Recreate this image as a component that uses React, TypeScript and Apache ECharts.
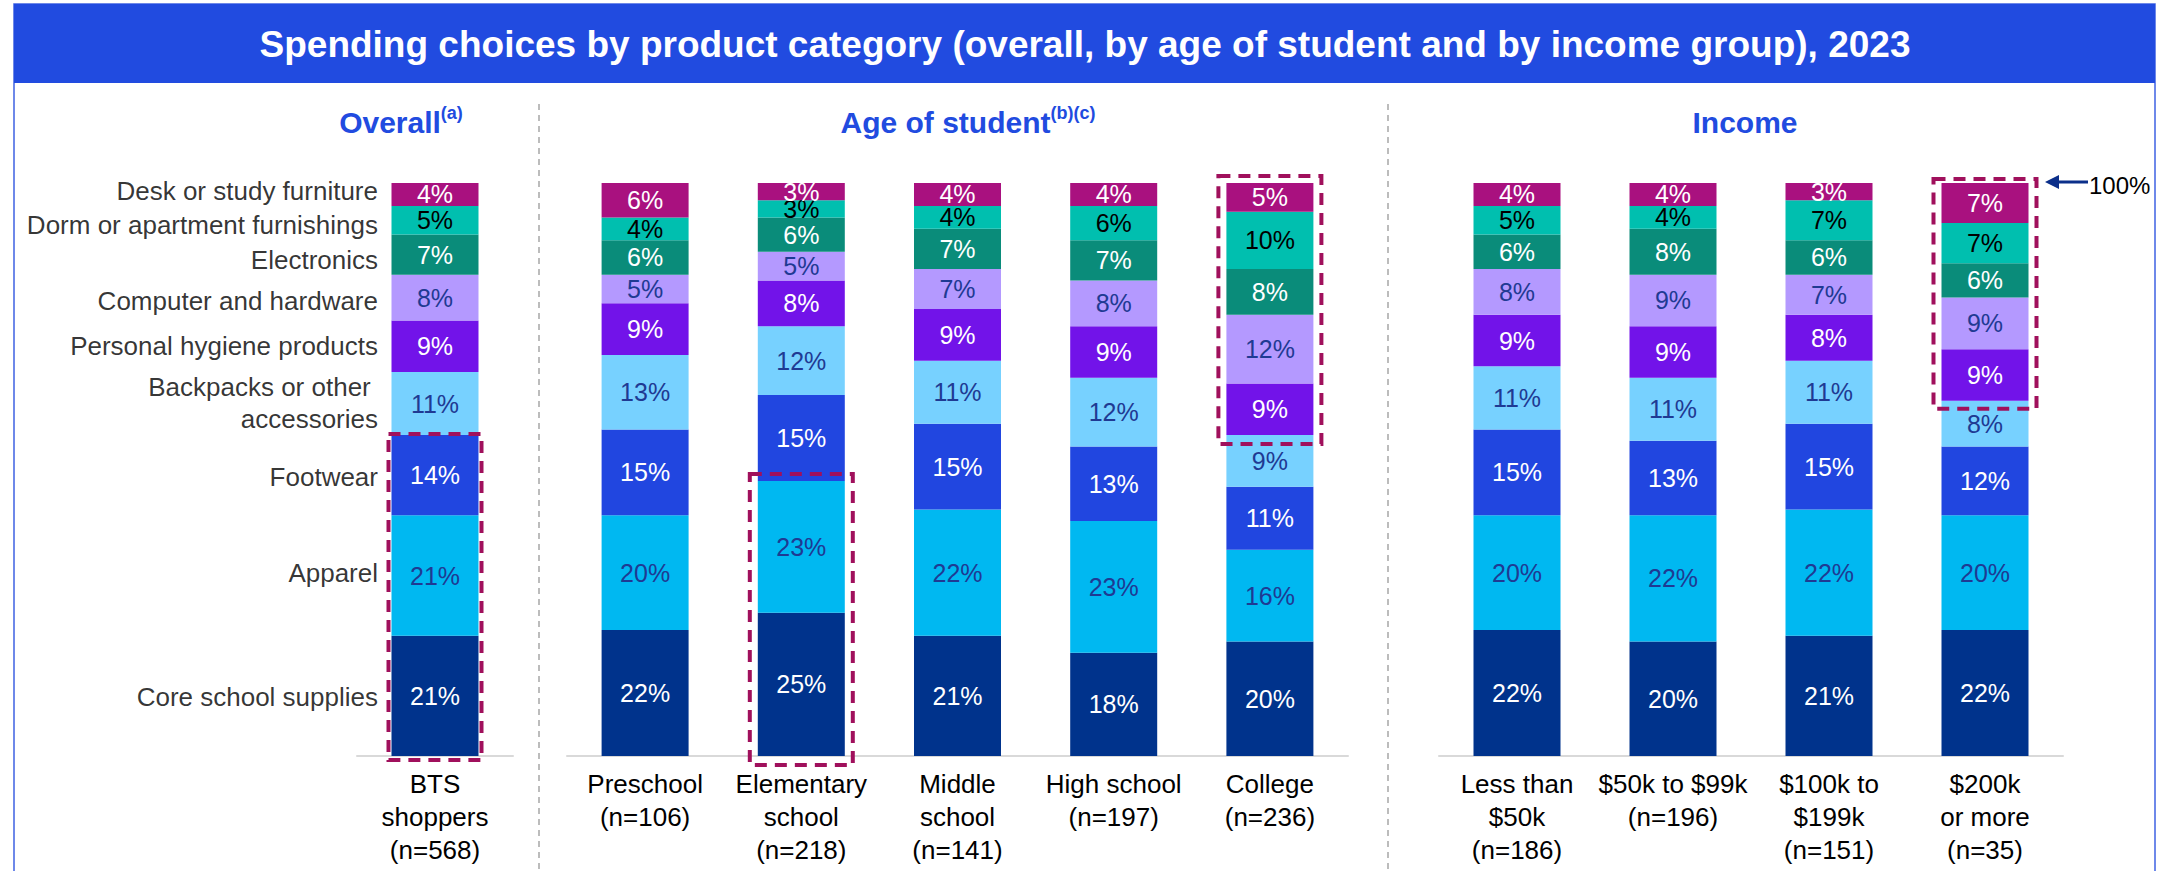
import React, { useEffect, useRef } from "react";
import * as echarts from "echarts";

// ---------- DATA ----------
const segmentNames = [
  "Core school supplies",
  "Apparel",
  "Footwear",
  "Backpacks or other \naccessories",
  "Personal hygiene products",
  "Computer and hardware",
  "Electronics",
  "Dorm or apartment furnishings",
  "Desk or study furniture",
];

const overallCategories = ["BTS\nshoppers\n(n=568)"];
const ageCategories = [
  "Preschool\n(n=106)",
  "Elementary\nschool\n(n=218)",
  "Middle\nschool\n(n=141)",
  "High school\n(n=197)",
  "College\n(n=236)",
];
const incomeCategories = [
  "Less than\n$50k\n(n=186)",
  "$50k to $99k\n(n=196)",
  "$100k to\n$199k\n(n=151)",
  "$200k\nor more\n(n=35)",
];

// values per segment (bottom to top), one entry per category
const overallValues = [[21], [21], [14], [11], [9], [8], [7], [5], [4]];

const ageCore = [22, 25, 21, 18, 20];
const ageApparel = [20, 23, 22, 23, 16];
const ageFootwear = [15, 15, 15, 13, 11];
const ageBackpacks = [13, 12, 11, 12, 9];
const ageHygiene = [9, 8, 9, 9, 9];
const ageComputer = [5, 5, 7, 8, 12];
const ageElectronics = [6, 6, 7, 7, 8];
const ageDorm = [4, 3, 4, 6, 10];
const ageDesk = [6, 3, 4, 4, 5];

const incomeCore = [22, 20, 21, 22];
const incomeApparel = [20, 22, 22, 20];
const incomeFootwear = [15, 13, 15, 12];
const incomeBackpacks = [11, 11, 11, 8];
const incomeHygiene = [9, 9, 8, 9];
const incomeComputer = [8, 9, 7, 9];
const incomeElectronics = [6, 8, 6, 6];
const incomeDorm = [5, 4, 7, 7];
const incomeDesk = [4, 4, 3, 7];

// highlighted ranges: [category index, first segment, last segment]
const overallHighlights = [[0, 0, 2]];
const ageHighlights = [
  [1, 0, 1],
  [4, 4, 8],
];
const incomeHighlights = [[3, 4, 8]];

const titleText =
  "Spending choices by product category (overall, by age of student and by income group), 2023";

// ---------- STYLE ----------
const FONT = "Liberation Sans, Arial, Helvetica, sans-serif";
const segColors = [
  "#00338C",
  "#00B8F1",
  "#2146E0",
  "#77D1FF",
  "#7213E9",
  "#B499FF",
  "#0A8C7A",
  "#00BFAF",
  "#A9117F",
];
const NAVY_TXT = "#1F3A93";
const segLabelColors = [
  "#FFFFFF",
  NAVY_TXT,
  "#FFFFFF",
  NAVY_TXT,
  "#FFFFFF",
  NAVY_TXT,
  "#FFFFFF",
  "#000000",
  "#FFFFFF",
];
// small vertical nudges of the left-hand category names (px)
const nameOffsets = [1, -3, 2, -1, 0, 3, 5, 5, -3];
const BLUE = "#214BE0";
const BOX = "#A0105C";
const BAR_W = 87;

export default function App() {
  const ref = useRef<HTMLDivElement>(null);

  useEffect(() => {
    if (!ref.current) return;
    const chart = echarts.init(ref.current, undefined, { renderer: "svg" });

    const ageValues = [
      ageCore,
      ageApparel,
      ageFootwear,
      ageBackpacks,
      ageHygiene,
      ageComputer,
      ageElectronics,
      ageDorm,
      ageDesk,
    ];
    const incomeValues = [
      incomeCore,
      incomeApparel,
      incomeFootwear,
      incomeBackpacks,
      incomeHygiene,
      incomeComputer,
      incomeElectronics,
      incomeDorm,
      incomeDesk,
    ];
    const groups = [overallValues, ageValues, incomeValues];
    const cats = [overallCategories, ageCategories, incomeCategories];
    const highlights = [overallHighlights, ageHighlights, incomeHighlights];
    const pads = [
      { side: 3, top: 1, bottom: 4 },
      { side: 8, top: 7, bottom: 9 },
      { side: 8, top: 4, bottom: 8 },
    ];

    const grids = [
      { left: 357, width: 156, top: 183, height: 573 },
      { left: 567, width: 781, top: 183, height: 573 },
      { left: 1439, width: 624, top: 183, height: 573 },
    ];

    const xAxes = cats.map((c, i) => ({
      type: "category",
      gridIndex: i,
      data: c,
      axisLine: { show: true, lineStyle: { color: "#D9D9D9", width: 2 } },
      axisTick: { show: false },
      axisLabel: {
        interval: 0,
        fontSize: 26,
        fontFamily: FONT,
        color: "#000",
        lineHeight: 33,
        margin: 11,
      },
    }));
    const yAxes = cats.map((_, i) => ({
      type: "value",
      gridIndex: i,
      min: 0,
      max: 100,
      show: false,
      splitLine: { show: false },
    }));

    const series: any[] = [];
    groups.forEach((vals, g) => {
      vals.forEach((arr, s) => {
        series.push({
          type: "bar",
          name: segmentNames[s],
          xAxisIndex: g,
          yAxisIndex: g,
          stack: "g" + g,
          barWidth: BAR_W,
          data: arr,
          itemStyle: { color: segColors[s] },
          label: {
            show: true,
            position: "inside",
            formatter: "{c}%",
            fontSize: 25,
            fontFamily: FONT,
            color: segLabelColors[s],
          },
        });
      });
      // highlight boxes
      const boxData = highlights[g].map(([c, a, b]) => {
        let lo = 0;
        for (let k = 0; k < a; k++) lo += vals[k][c];
        let hi = lo;
        for (let k = a; k <= b; k++) hi += vals[k][c];
        return [c, lo, hi];
      });
      const pad = pads[g];
      series.push({
        type: "custom",
        xAxisIndex: g,
        yAxisIndex: g,
        silent: true,
        z: 10,
        clip: false,
        data: boxData,
        encode: { x: 0, y: [1, 2] },
        renderItem: (params: any, api: any) => {
          const c = api.value(0);
          const top = api.coord([c, api.value(2)]);
          const bot = api.coord([c, api.value(1)]);
          return {
            type: "rect",
            shape: {
              x: top[0] - BAR_W / 2 - pad.side,
              y: top[1] - pad.top,
              width: BAR_W + pad.side * 2,
              height: bot[1] - top[1] + pad.top + pad.bottom,
            },
            style: {
              fill: "none",
              stroke: BOX,
              lineWidth: 4,
              lineDash: [12, 8],
            },
          };
        },
      });
    });

    // segment name labels, placed at the middle of each overall segment
    let cum = 0;
    const mids = overallValues.map((arr) => {
      const m = cum + arr[0] / 2;
      cum += arr[0];
      return m;
    });
    series.push({
      type: "scatter",
      xAxisIndex: 0,
      yAxisIndex: 0,
      symbolSize: 0,
      silent: true,
      z: 5,
      data: mids.map((m, i) => ({
        value: [0, m],
        label: { formatter: segmentNames[i], offset: [0, nameOffsets[i]] },
      })),
      label: {
        show: true,
        position: "left",
        distance: 57,
        fontSize: 26,
        fontFamily: FONT,
        color: "#000000",
        lineHeight: 32,
        align: "right",
      },
    });

    const header = (x: number, main: string, sup: string) => ({
      type: "text",
      x,
      y: 122,
      style: {
        text: sup ? `{m|${main}}{s|${sup}}` : `{m|${main}}`,
        align: "center",
        verticalAlign: "middle",
        rich: {
          m: {
            fontSize: 30,
            fontWeight: "bold",
            fontFamily: FONT,
            fill: BLUE,
            lineHeight: 36,
          },
          s: {
            fontSize: 18,
            fontWeight: "bold",
            fontFamily: FONT,
            fill: BLUE,
            verticalAlign: "top",
            lineHeight: 36,
          },
        },
      },
    });

    const baseGraphic: any[] = [
      {
        type: "rect",
        shape: { x: 14, y: 4, width: 2141, height: 900 },
        style: { fill: "none", stroke: "#3F62E2", lineWidth: 1.5 },
        silent: true,
      },
      {
        type: "rect",
        shape: { x: 14, y: 4, width: 2141, height: 79 },
        style: { fill: BLUE },
        silent: true,
      },
      {
        type: "text",
        x: 1085,
        y: 44,
        style: {
          text: titleText,
          fontSize: 37,
          fontWeight: "bold",
          fontFamily: FONT,
          fill: "#FFFFFF",
          align: "center",
          verticalAlign: "middle",
        },
      },
      header(401, "Overall", "(a)"),
      header(968, "Age of student", "(b)(c)"),
      header(1745, "Income", ""),
      {
        type: "line",
        shape: { x1: 539, y1: 104, x2: 539, y2: 871 },
        style: { stroke: "#A6A6A6", lineWidth: 1.5, lineDash: [6, 5] },
        silent: true,
      },
      {
        type: "line",
        shape: { x1: 1388, y1: 104, x2: 1388, y2: 871 },
        style: { stroke: "#A6A6A6", lineWidth: 1.5, lineDash: [6, 5] },
        silent: true,
      },
    ];

    const option: any = {
      animation: false,
      backgroundColor: "#FFFFFF",
      grid: grids,
      xAxis: xAxes,
      yAxis: yAxes,
      series,
      graphic: baseGraphic,
    };
    chart.setOption(option);

    const y100 = chart.convertToPixel({ yAxisIndex: 2 }, 100) as number;
    const arrow = [
      {
        type: "line",
        shape: { x1: 2055, y1: y100 - 1, x2: 2088, y2: y100 - 1 },
        style: { stroke: "#0B2F8A", lineWidth: 3 },
        silent: true,
      },
      {
        type: "polygon",
        shape: {
          points: [
            [2045, y100 - 1],
            [2059, y100 - 8],
            [2059, y100 + 6],
          ],
        },
        style: { fill: "#0B2F8A" },
        silent: true,
      },
      {
        type: "text",
        x: 2089,
        y: y100 + 2,
        style: {
          text: "100%",
          fontSize: 24,
          fontFamily: FONT,
          fill: "#000",
          align: "left",
          verticalAlign: "middle",
        },
      },
    ];
    chart.setOption({ graphic: [...baseGraphic, ...arrow] });

    return () => chart.dispose();
  }, []);

  return (
    <div
      ref={ref}
      style={{
        position: "fixed",
        left: 0,
        top: 0,
        width: 2160,
        height: 871,
        background: "#FFFFFF",
      }}
    />
  );
}
